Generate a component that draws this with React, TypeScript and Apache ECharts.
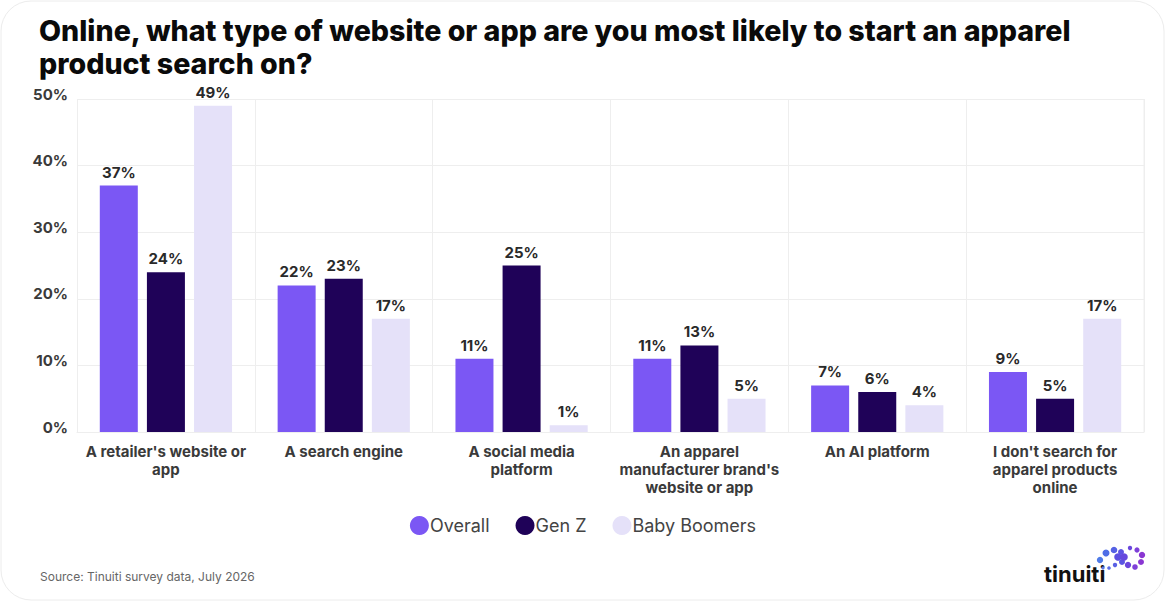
import React, { useEffect, useRef } from "react";
import * as echarts from "echarts";

const categories = [
  "A retailer's website or\napp",
  "A search engine",
  "A social media\nplatform",
  "An apparel\nmanufacturer brand's\nwebsite or app",
  "An AI platform",
  "I don't search for\napparel products\nonline",
];
const overall = [37, 22, 11, 11, 7, 9];
const genZ = [24, 23, 25, 13, 6, 5];
const babyBoomers = [49, 17, 1, 5, 4, 17];
const seriesNames = ["Overall", "Gen Z", "Baby Boomers"];
const colors = ["#7B57F4", "#1F0258", "#E5E1F9"];

export default function App() {
  const ref = useRef<HTMLDivElement>(null);
  useEffect(() => {
    document.body.style.margin = "0";
    const chart = echarts.init(ref.current!, undefined, { renderer: "svg" });
    const label = {
      show: true,
      position: "top" as const,
      distance: 6,
      formatter: "{c}%",
      fontFamily: "Inter",
      fontWeight: "bold" as const,
      fontSize: 15,
      color: "#2a2a2a",
    };
    const mk = (i: number, data: number[]) => ({
      name: seriesNames[i],
      type: "bar",
      data,
      barWidth: 38,
      barGap: "24%",
      itemStyle: { color: colors[i] },
      label,
    });
    const dots: any[] = [
      [1100, 560, 3.2], [1106, 553, 3.5], [1114, 550, 3.3], [1121, 552, 3.0],
      [1130, 548, 2.2], [1137, 550, 2.6], [1142, 555, 3.2], [1141, 562, 3.0],
      [1135, 567, 2.8], [1128, 565, 3.2], [1122, 562, 3.0], [1115, 565, 2.2],
      [1109, 568, 1.8], [1103, 568, 1.6], [1118, 557, 3.8], [1124, 557, 3.8],
    ];
    const dotColors = ["#4f7be8", "#4f6ee6", "#5561e4", "#5d52e2", "#6a47dd", "#7d3fd8", "#8a36d2", "#8a36d2", "#7f3fd8", "#6b46dc", "#5b55e2", "#5a60e4", "#5a6de6", "#5a78e8", "#5c4fe0", "#6648dd"];
    chart.setOption({
      animation: false,
      backgroundColor: "#ffffff",
      title: {
        text: "Online, what type of website or app are you most likely to start an apparel\nproduct search on?",
        left: 34,
        top: 9,
        textStyle: {
          fontFamily: "Inter",
          fontWeight: 800,
          fontSize: 28.6,
          lineHeight: 33,
          color: "#0a0a0a",
        },
      },
      legend: {
        bottom: 62,
        left: "center",
        icon: "circle",
        itemWidth: 19,
        itemHeight: 19,
        itemGap: 26,
        textStyle: { fontFamily: "Inter", fontSize: 18, color: "#444", padding: [0, 0, 0, -4] },
        data: seriesNames,
      },
      grid: { left: 77, right: 22, top: 99, bottom: 170, containLabel: false },
      xAxis: {
        type: "category",
        data: categories,
        axisTick: { show: false },
        axisLine: { show: true, lineStyle: { color: "#eeeeee" } },
        splitLine: { show: true, lineStyle: { color: "#eeeeee" } },
        axisLabel: {
          interval: 0,
          margin: 10,
          fontFamily: "Inter",
          fontWeight: "bold",
          fontSize: 15,
          lineHeight: 18,
          color: "#3a3a3a",
        },
      },
      yAxis: {
        type: "value",
        min: 0,
        max: 50,
        interval: 10,
        axisLine: { show: false },
        axisTick: { show: false },
        splitLine: { show: true, lineStyle: { color: "#eeeeee" } },
        axisLabel: {
          formatter: "{value}%",
          margin: 9,
          fontFamily: "Inter",
          fontWeight: "bold",
          fontSize: 15,
          color: "#3a3a3a",
          verticalAlign: "bottom",
          lineHeight: 10,
        },
      },
      graphic: [
        {
          type: "rect",
          shape: { x: 1, y: 1, width: 1163, height: 599, r: 30 },
          style: { fill: "none", stroke: "#ececec", lineWidth: 1 },
          silent: true,
        },
        {
          type: "line",
          shape: { x1: 1144, y1: 99, x2: 1144, y2: 432 },
          style: { stroke: "#eeeeee", lineWidth: 1 },
          silent: true,
        },
        {
          type: "text",
          left: 40,
          top: 570,
          style: { text: "Source: Tinuiti survey data, July 2026", fontFamily: "Inter", fontSize: 12, fill: "#666" },
        },
        {
          type: "text",
          left: 1044,
          top: 563,
          style: { text: "tinuiti", fontFamily: "Inter", fontWeight: "bold", fontSize: 22, fill: "#111" },
        },
        ...dots.map((d, i) => ({
          type: "circle",
          shape: { cx: d[0], cy: d[1], r: d[2] },
          style: { fill: dotColors[i] },
          silent: true,
        })),
      ],
      series: [mk(0, overall), mk(1, genZ), mk(2, babyBoomers)],
    });
    return () => chart.dispose();
  }, []);
  return <div ref={ref} style={{ width: 1166, height: 602 }} />;
}
